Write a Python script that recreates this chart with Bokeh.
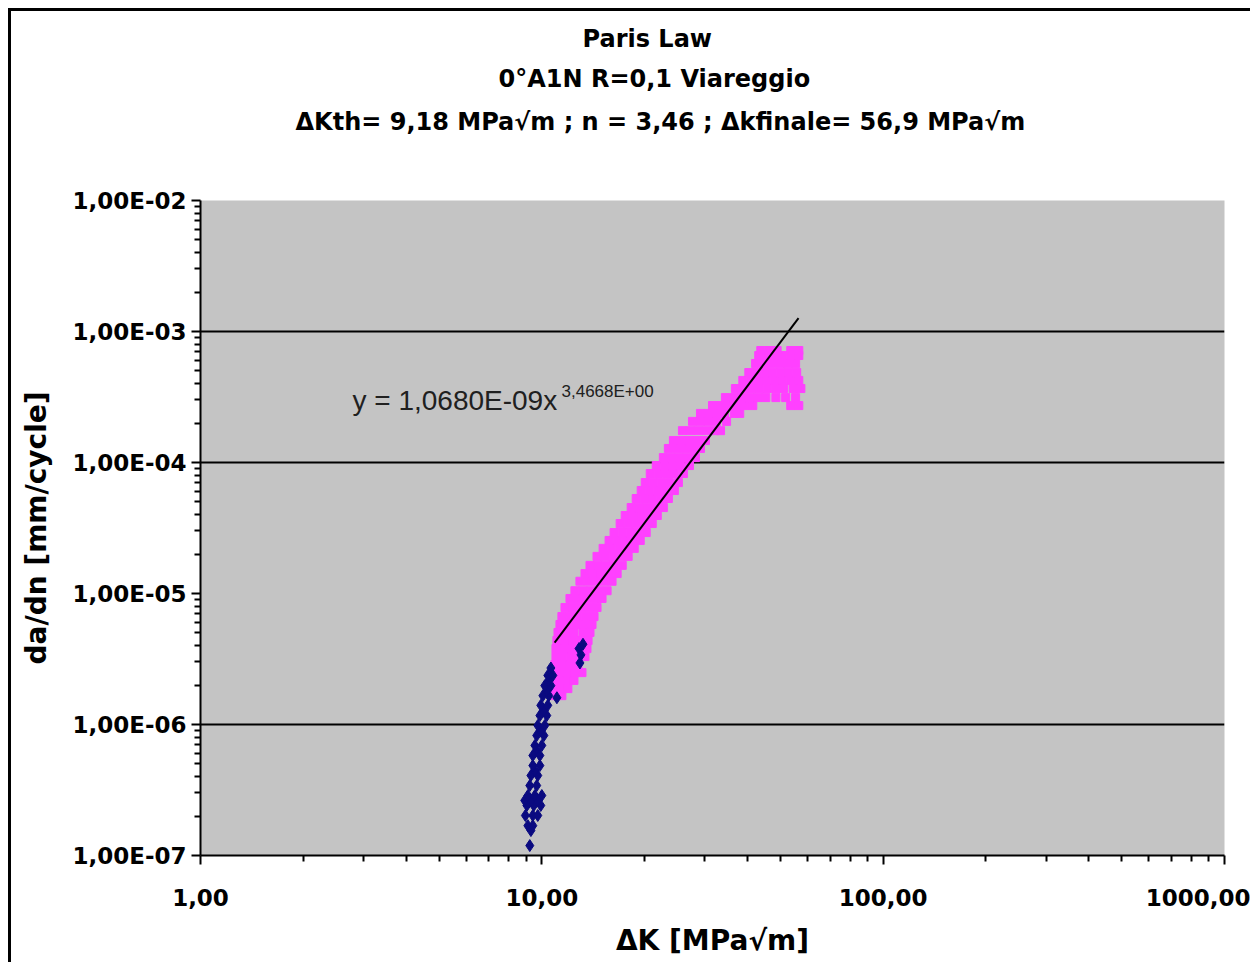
from bokeh.plotting import figure
from bokeh.models import FixedTicker, Label, Range1d, CustomJSTickFormatter, Title
from bokeh.embed import file_html
from bokeh.resources import INLINE

title_lines = ["Paris Law",
               "0°A1N R=0,1 Viareggio",
               "ΔKth= 9,18 MPa√m ; n = 3,46 ; Δkfinale= 56,9 MPa√m"]
x_label = "ΔK [MPa√m]"
y_label = "da/dn [mm/cycle]"
x_ticks = [1, 10, 100, 1000]
x_tick_labels = ["1,00", "10,00", "100,00", "1000,00"]
y_ticks = [1e-7, 1e-6, 1e-5, 1e-4, 1e-3, 1e-2]
y_tick_labels = ["1,00E-07", "1,00E-06", "1,00E-05", "1,00E-04", "1,00E-03", "1,00E-02"]
grid_values = [1e-3, 1e-4, 1e-6]

# series 1 (navy)
navy_dk = [9.22,
           9.10, 9.41,
           9.29,
           8.95, 9.41, 9.73,
           9.04, 9.47, 9.93,
           8.91, 9.29, 9.73,
           9.10, 9.54, 10.0,
           9.22, 9.66,
           9.29, 9.73,
           9.54,
           9.41, 9.87,
           9.66,
           9.41, 9.87,
           9.54, 10.0,
           9.66, 10.14,
           9.93,
           9.73, 10.2,
           9.87, 10.34,
           10.14,
           9.93, 10.41,
           10.07, 10.48,
           10.34,
           10.2, 10.63,
           10.48,
           10.41, 10.77,
           10.63,
           11.07,
           12.85, 13.02, 12.93, 13.2]
navy_dadn = [1.19e-7,
             1.69e-7, 1.69e-7,
             1.55e-7,
             2.02e-7, 2.02e-7, 2.02e-7,
             2.41e-7, 2.41e-7, 2.41e-7,
             2.63e-7, 2.63e-7, 2.63e-7,
             2.87e-7, 2.87e-7, 2.87e-7,
             3.42e-7, 3.42e-7,
             4.08e-7, 4.08e-7,
             4.46e-7,
             4.86e-7, 4.86e-7,
             6.33e-7,
             5.80e-7, 5.80e-7,
             6.92e-7, 6.92e-7,
             8.24e-7, 8.24e-7,
             9.00e-7,
             9.83e-7, 9.83e-7,
             1.17e-6, 1.17e-6,
             1.28e-6,
             1.40e-6, 1.40e-6,
             1.66e-6, 1.66e-6,
             1.82e-6,
             1.98e-6, 1.98e-6,
             2.17e-6,
             2.37e-6, 2.37e-6,
             2.70e-6,
             1.60e-6,
             3.80e-6, 3.40e-6, 2.95e-6, 4.10e-6]

# series 2 (magenta)
pink_dk = [10.92, 11.45,
           10.85, 11.37, 11.92,
           10.77, 11.30, 11.85, 12.42,
           10.77, 11.30, 11.85, 12.50, 13.11,
           10.92, 11.45, 12.09, 12.76,
           11.00, 11.53, 12.17, 12.85, 13.38,
           11.00, 11.61, 12.25, 12.93, 13.56,
           11.07, 11.69, 12.33, 13.02, 13.66,
           11.15, 11.77, 12.42, 13.20, 13.84,
           11.30, 11.92, 12.59, 13.29, 14.03,
           11.45, 12.09, 12.76, 13.47, 14.22,
           11.69, 12.33, 13.02, 13.75, 14.51,
           12.09, 12.76, 13.47, 14.22, 15.01,
           12.50, 13.20, 13.94, 14.71, 15.53,
           12.93, 13.66, 14.42, 15.22, 16.06,
           13.38, 14.13, 14.90, 15.74, 16.62,
           13.84, 14.61, 15.43, 16.28, 17.20,
           14.51, 15.32, 16.17, 17.08, 17.90,
           15.12, 15.96, 16.85, 17.78, 18.65,
           15.74, 16.62, 17.55, 18.52, 19.42,
           16.28, 17.20, 18.15, 19.16, 20.22,
           16.96, 17.90, 18.90, 19.95, 21.06,
           17.55, 18.52, 19.55, 20.64, 21.79,
           18.27, 19.29, 20.36, 21.50, 22.70,
           18.90, 19.95, 21.06, 22.24, 23.48,
           19.55, 20.64, 21.79, 23.00, 24.45,
           20.09, 21.21, 22.39, 23.64, 25.12,
           20.78, 21.94, 23.16, 24.45, 25.99,
           21.64, 22.85, 24.12, 25.47, 27.07,
           22.70, 23.96, 25.29, 26.71, 28.18,
           23.48, 24.79, 26.17, 27.63, 29.16,
           24.29, 25.64, 27.07, 28.57, 30.16,
           25.82, 27.26, 28.76, 30.36, 32.05, 33.38,
           27.63, 29.16, 30.77, 32.49, 34.77,
           29.16, 30.77, 32.49, 34.30, 36.71, 38.0,
           31.62, 33.38, 35.25, 37.21, 39.28, 41.5, 53.6, 56.6,
           34.5, 36.5, 38.5, 40.6, 42.9, 45.3, 48.5, 51.8, 55.4,
           36.9, 39.0, 41.2, 43.5, 45.9, 48.5, 51.1, 54.5, 57.4,
           38.8, 41.0, 43.2, 45.6, 48.1, 50.8, 53.6, 56.6,
           40.4, 42.6, 45.0, 47.5, 50.1, 52.9, 55.8,
           42.3, 44.7, 47.1, 49.8, 52.5, 55.4,
           43.2, 45.6, 48.1, 50.8, 53.6, 56.6,
           43.8, 46.3, 48.9, 53.6, 56.6]
pink_dadn = [1.66e-6, 1.66e-6,
             1.88e-6, 1.88e-6, 1.88e-6,
             2.17e-6, 2.17e-6, 2.17e-6, 2.17e-6,
             2.49e-6, 2.49e-6, 2.49e-6, 2.49e-6, 2.49e-6,
             2.87e-6, 2.87e-6, 2.87e-6, 2.87e-6,
             3.30e-6, 3.30e-6, 3.30e-6, 3.30e-6, 3.30e-6,
             3.80e-6, 3.80e-6, 3.80e-6, 3.80e-6, 3.80e-6,
             4.38e-6, 4.38e-6, 4.38e-6, 4.38e-6, 4.38e-6,
             5.04e-6, 5.04e-6, 5.04e-6, 5.04e-6, 5.04e-6,
             5.80e-6, 5.80e-6, 5.80e-6, 5.80e-6, 5.80e-6,
             6.67e-6, 6.67e-6, 6.67e-6, 6.67e-6, 6.67e-6,
             7.82e-6, 7.82e-6, 7.82e-6, 7.82e-6, 7.82e-6,
             9.16e-6, 9.16e-6, 9.16e-6, 9.16e-6, 9.16e-6,
             1.05e-5, 1.05e-5, 1.05e-5, 1.05e-5, 1.05e-5,
             1.24e-5, 1.24e-5, 1.24e-5, 1.24e-5, 1.24e-5,
             1.42e-5, 1.42e-5, 1.42e-5, 1.42e-5, 1.42e-5,
             1.64e-5, 1.64e-5, 1.64e-5, 1.64e-5, 1.64e-5,
             1.92e-5, 1.92e-5, 1.92e-5, 1.92e-5, 1.92e-5,
             2.21e-5, 2.21e-5, 2.21e-5, 2.21e-5, 2.21e-5,
             2.54e-5, 2.54e-5, 2.54e-5, 2.54e-5, 2.54e-5,
             2.92e-5, 2.92e-5, 2.92e-5, 2.92e-5, 2.92e-5,
             3.42e-5, 3.42e-5, 3.42e-5, 3.42e-5, 3.42e-5,
             3.94e-5, 3.94e-5, 3.94e-5, 3.94e-5, 3.94e-5,
             4.53e-5, 4.53e-5, 4.53e-5, 4.53e-5, 4.53e-5,
             5.31e-5, 5.31e-5, 5.31e-5, 5.31e-5, 5.31e-5,
             6.11e-5, 6.11e-5, 6.11e-5, 6.11e-5, 6.11e-5,
             7.03e-5, 7.03e-5, 7.03e-5, 7.03e-5, 7.03e-5,
             8.24e-5, 8.24e-5, 8.24e-5, 8.24e-5, 8.24e-5,
             9.48e-5, 9.48e-5, 9.48e-5, 9.48e-5, 9.48e-5,
             1.09e-4, 1.09e-4, 1.09e-4, 1.09e-4, 1.09e-4,
             1.28e-4, 1.28e-4, 1.28e-4, 1.28e-4, 1.28e-4,
             1.47e-4, 1.47e-4, 1.47e-4, 1.47e-4, 1.47e-4,
             1.75e-4, 1.75e-4, 1.75e-4, 1.75e-4, 1.75e-4, 1.75e-4,
             2.06e-4, 2.06e-4, 2.06e-4, 2.06e-4, 2.06e-4,
             2.37e-4, 2.37e-4, 2.37e-4, 2.37e-4, 2.37e-4, 2.37e-4,
             2.72e-4, 2.72e-4, 2.72e-4, 2.72e-4, 2.72e-4, 2.72e-4, 2.72e-4, 2.72e-4,
             3.13e-4, 3.13e-4, 3.13e-4, 3.13e-4, 3.13e-4, 3.13e-4, 3.13e-4, 3.13e-4, 3.13e-4,
             3.67e-4, 3.67e-4, 3.67e-4, 3.67e-4, 3.67e-4, 3.67e-4, 3.67e-4, 3.67e-4, 3.67e-4,
             4.23e-4, 4.23e-4, 4.23e-4, 4.23e-4, 4.23e-4, 4.23e-4, 4.23e-4, 4.23e-4,
             4.86e-4, 4.86e-4, 4.86e-4, 4.86e-4, 4.86e-4, 4.86e-4, 4.86e-4,
             5.70e-4, 5.70e-4, 5.70e-4, 5.70e-4, 5.70e-4, 5.70e-4,
             6.56e-4, 6.56e-4, 6.56e-4, 6.56e-4, 6.56e-4, 6.56e-4,
             7.16e-4, 7.16e-4, 7.16e-4, 7.16e-4, 7.16e-4]

# power-law trendline y = a * x^n
fit_a = 1.068e-9
fit_n = 3.4668
fit_dk = [10.9, 56.5]
equation_text = "y = 1,0680E-09x"
equation_exp = "3,4668E+00"

BOLD_FONT = "DejaVu Sans"

p = figure(width=1242, height=954, x_axis_type="log", y_axis_type="log",
           x_range=Range1d(1, 1000), y_range=Range1d(1e-7, 1e-2),
           output_backend="svg", toolbar_location=None,
           min_border_left=189, min_border_right=29,
           min_border_top=189, min_border_bottom=110)
p.styles = {"border-left": "3px solid black", "border-top": "3px solid black",
            "margin-left": "8px", "margin-top": "8px"}
p.background_fill_color = "#c4c4c4"
p.border_fill_color = "white"
p.outline_line_color = None

p.xgrid.visible = False
p.ygrid.ticker = FixedTicker(ticks=grid_values)
p.ygrid.grid_line_color = "black"
p.ygrid.grid_line_width = 2

xminor = [m * 10 ** e for e in range(0, 3) for m in range(2, 10)]
yminor = [m * 10.0 ** e for e in range(-7, -2) for m in range(2, 10)]
p.xaxis.ticker = FixedTicker(ticks=x_ticks, minor_ticks=xminor)
p.yaxis.ticker = FixedTicker(ticks=y_ticks, minor_ticks=yminor)
fmt_code = "const i = t.findIndex(v => Math.abs(v - tick) / v < 1e-6); return i >= 0 ? l[i] : '';"
p.xaxis.formatter = CustomJSTickFormatter(args=dict(t=x_ticks, l=x_tick_labels), code=fmt_code)
p.yaxis.formatter = CustomJSTickFormatter(args=dict(t=y_ticks, l=y_tick_labels), code=fmt_code)

for ax in (p.xaxis[0], p.yaxis[0]):
    ax.axis_line_width = 2
    ax.axis_line_color = "black"
    ax.major_tick_line_width = 2
    ax.minor_tick_line_width = 2
    ax.major_tick_in = 0
    ax.major_tick_out = 9
    ax.minor_tick_in = 0
    ax.minor_tick_out = 6
    ax.major_label_text_font = BOLD_FONT
    ax.major_label_text_font_style = "bold"
    ax.major_label_text_font_size = "23px"
    ax.major_label_text_color = "black"
    ax.axis_label_text_font = BOLD_FONT
    ax.axis_label_text_font_style = "bold"
    ax.axis_label_text_font_size = "28px"
    ax.axis_label_text_color = "black"

p.xaxis.axis_label = x_label
p.yaxis.axis_label = y_label
p.xaxis.major_label_standoff = 24
p.xaxis.axis_label_standoff = 15
p.yaxis.major_label_standoff = 5
p.yaxis.axis_label_standoff = 16

p.scatter(pink_dk, pink_dadn, marker="square", size=8, color="#ff40ff")
p.scatter(navy_dk, navy_dadn, marker="diamond", size=12, color="#0a0a80")
p.line(fit_dk, [fit_a * k ** fit_n for k in fit_dk], color="black", line_width=2)

# titles, stacked upward from the frame: a blank spacer first, then the last line
title_style = dict(align="left", text_font=BOLD_FONT, text_font_style="bold",
                   text_font_size="24px", text_color="black")
p.add_layout(Title(text=" ", offset=0, standoff=28, **title_style), "above")
title_offsets = [382, 298, 95]
title_standoffs = [8, 12, 14]
for txt, off, so in reversed(list(zip(title_lines, title_offsets, title_standoffs))):
    p.add_layout(Title(text=txt, offset=off, standoff=so, **title_style), "above")

p.add_layout(Label(x=152, y=455, x_units="screen", y_units="screen", text=equation_text,
                   text_align="left", text_baseline="alphabetic",
                   text_font="Liberation Sans", text_font_size="28px", text_color="#202020"))
p.add_layout(Label(x=361, y=464, x_units="screen", y_units="screen", text=equation_exp,
                   text_align="left", text_baseline="alphabetic",
                   text_font="Liberation Sans", text_font_size="17px", text_color="#202020"))

open("out.html", "w").write(file_html(p, INLINE))
